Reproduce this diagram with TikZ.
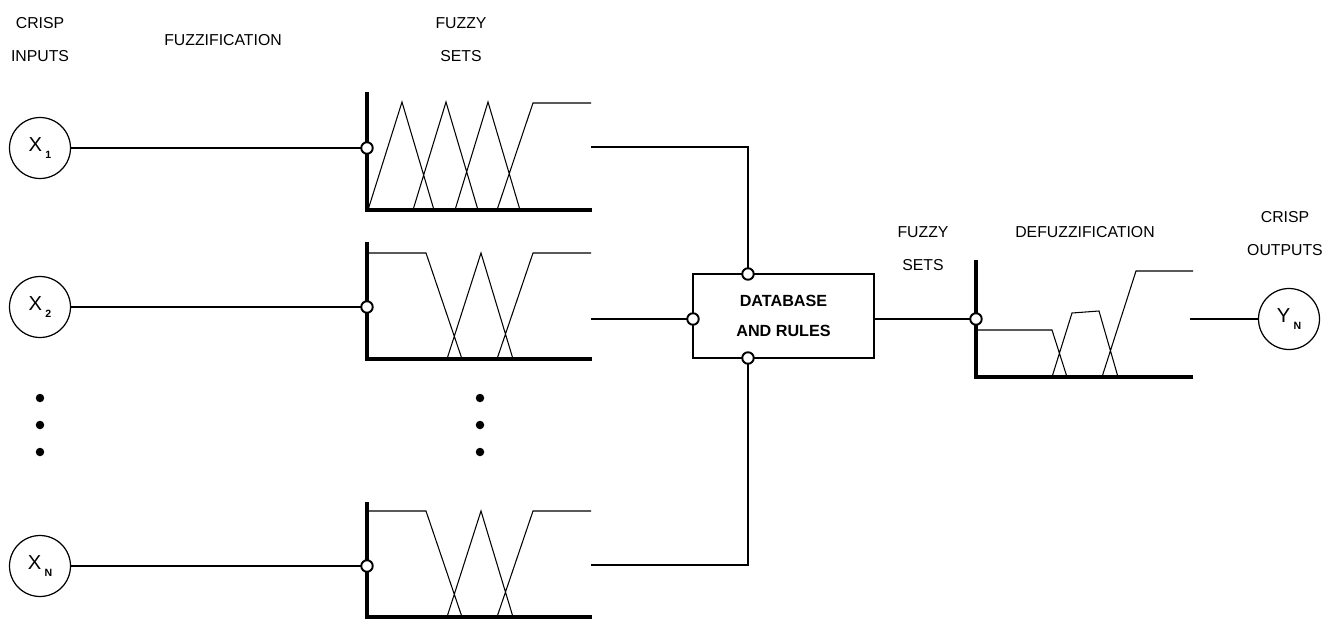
\documentclass[tikz,border=0pt]{standalone}
\usepackage{fontspec}
\setmainfont{Liberation Sans}
\begin{document}
\begin{tikzpicture}[x=0.02cm,y=-0.02cm,
 lbl/.style={font=\fontsize{9}{10}\selectfont, inner sep=0},
 io/.style={circle, draw, line width=0.7pt, minimum size=1.22cm, inner sep=0},
 wire/.style={line width=1.3pt},
 axisline/.style={line width=2.2pt},
 mf/.style={line width=0.6pt},
 port/.style={circle, draw, fill=white, line width=1.1pt, minimum size=0.23cm, inner sep=0},
 dbox/.style={draw, line width=1.3pt, minimum width=3.62cm, minimum height=1.68cm, inner sep=0},
 bigdot/.style={circle, fill, minimum size=0.17cm, inner sep=0}]
\useasboundingbox (0,0) rectangle (1326,619);

% ---- labels
\node[lbl] (l1) at (40,23) {CRISP};
\node[lbl] (l2) at (40,56) {INPUTS};
\node[lbl] (l3) at (223,40) {FUZZIFICATION};
\node[lbl] (l4) at (461,23) {FUZZY};
\node[lbl] (l5) at (461,56) {SETS};
\node[lbl] (l6) at (923,232) {FUZZY};
\node[lbl] (l7) at (923,265) {SETS};
\node[lbl] (l8) at (1085,232) {DEFUZZIFICATION};
\node[lbl] (l9) at (1285,217) {CRISP};
\node[lbl] (l10) at (1285,250) {OUTPUTS};

% ---- input / output circles
\newcommand{\iolabel}[2]{\fontsize{11.5}{12}\selectfont #1\,\raisebox{-0.7ex}{\fontsize{6}{6}\selectfont\bfseries #2}}
\node[io] (x1) at (40,148) {\iolabel{X}{1}};
\node[io] (x2) at (40,307) {\iolabel{X}{2}};
\node[io] (xn) at (40,566) {\iolabel{X}{N}};
\node[io] (yn) at (1289,319) {\iolabel{Y}{N}};

% ---- dots
\node[bigdot] (d1) at (40,398) {};
\node[bigdot] (d2) at (40,425) {};
\node[bigdot] (d3) at (40,452) {};
\node[bigdot] (d4) at (480,398) {};
\node[bigdot] (d5) at (480,425) {};
\node[bigdot] (d6) at (480,452) {};

% ---- junction coordinates
\coordinate (p1) at (367,148);
\coordinate (p2) at (367,307);
\coordinate (pn) at (367,566);
\coordinate (o1) at (591,147);
\coordinate (o2) at (591,319);
\coordinate (on) at (591,565);
\coordinate (dbt) at (748,274);
\coordinate (dbl) at (693,319);
\coordinate (dbb) at (748,358);
\coordinate (dp) at (976,319);
\coordinate (od) at (1190,319);

% ---- fuzzy sets (inputs)
\draw[axisline] (367,92) -- (367,210) -- (592,210);
\draw[mf] (368,210) -- (402,102) -- (434,210)
          (413,210) -- (446,102) -- (478,210)
          (455,210) -- (488,102) -- (520,210)
          (497,210) -- (533,103) -- (591,103);
\draw[axisline] (367,242) -- (367,359) -- (592,359);
\draw[mf] (369,253) -- (426,253) -- (462,359)
          (447,359) -- (481,253) -- (513,359)
          (497,359) -- (533,253) -- (591,253);
\draw[axisline] (367,502) -- (367,617) -- (592,617);
\draw[mf] (369,511) -- (426,511) -- (462,617)
          (447,617) -- (481,511) -- (513,617)
          (497,617) -- (533,511) -- (591,511);

% ---- defuzzification set
\draw[axisline] (976,260) -- (976,377) -- (1193,377);
\draw[mf] (977,330) -- (1052,330) -- (1067,377)
          (1052,377) -- (1072,313) -- (1099,311) -- (1118,377)
          (1102,377) -- (1136,271) -- (1193,271);

% ---- wires
\draw[wire] (x1) -- (p1);
\draw[wire] (x2) -- (p2);
\draw[wire] (xn) -- (pn);
\draw[wire] (o1) -| (dbt);
\draw[wire] (o2) -- (dbl);
\draw[wire] (on) -| (dbb);
\node[dbox] (db) at (783.5,316) {};
\node[font=\fontsize{9.2}{10}\selectfont\bfseries, align=center, inner sep=0] (dbtext) at (db.center) {DATABASE\\[7pt]AND RULES};
\draw[wire] (db.east |- dp) -- (dp);
\draw[wire] (od) -- (yn);

% ---- ports
\node[port] (q1) at (p1) {};
\node[port] (q2) at (p2) {};
\node[port] (qn) at (pn) {};
\node[port] (qt) at (dbt) {};
\node[port] (ql) at (dbl) {};
\node[port] (qb) at (dbb) {};
\node[port] (qd) at (dp) {};
\end{tikzpicture}
\end{document}
